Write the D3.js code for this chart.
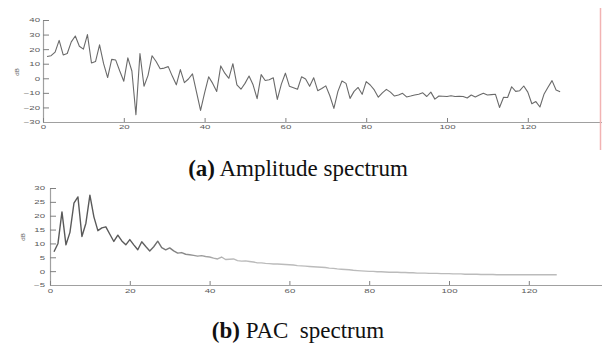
<!DOCTYPE html>
<html>
<head>
<meta charset="utf-8">
<script src="https://cdn.jsdelivr.net/npm/d3@7"></script>
<style>
  html, body { margin: 0; padding: 0; background: #fff; }
  svg { display: block; }
</style>
</head>
<body>
<svg id="chart"></svg>
<script>
// Amplitude spectrum (dB), bins 1..128
const ampDb = [
  15, 15.5, 18, 26, 16, 17, 25, 29, 22, 20,
  30, 10.5, 11.5, 23, 10, 0.5, 13, 12.5, 5, -2,
  14, 5, -25, 17, -5.5, 2, 15.5, 11.5, 6.5, 7,
  8, 1.5, -4.5, 6, -3, -0.5, 3, -9.5, -22, -10,
  1, -3.5, -9, 8.5, 3.5, 0, 10, -4.5, -7.5, -3.5,
  1.5, -4.5, -14, 2.5, -1.5, -1, 0.3, -14.5, -4, 3.5,
  -5.5, -6.5, -7.5, 1, -0.5, -5.5, 0.4, -8.5, -7, -5.2,
  -12, -20.7, -9, -1.9, -3.5, -13.8, -9, -6.3, -11, -2.3,
  -4.6, -8, -13, -10, -7.6, -9.5, -12.2, -11.5, -10.3, -12.8,
  -12.2, -11.5, -11, -10, -12.5, -9.5, -14.3, -12.2, -12.3, -12.5,
  -12, -12.5, -12.3, -12.5, -13.5, -11.5, -12.8, -11.5, -10.3, -11.5,
  -11.2, -11, -20, -13, -13.2, -5.8, -9, -8.5, -5.3, -9.5,
  -17.5, -16, -19.7, -11, -6.2, -1.6, -8, -9.2
];

// PAC spectrum (dB), bins 1..127
const pacDb = [
  7, 10, 21.4, 9.5, 14, 24.5, 26.8, 12.5, 17.3, 27.4,
  19.6, 14.6, 15.6, 16, 13.3, 10.7, 13, 10.9, 9.5, 11.4,
  9.5, 7.7, 10.6, 8.9, 7.3, 8.8, 10.8, 8.5, 7.7, 8.4,
  7.3, 6.5, 6.7, 6.1, 5.9, 5.7, 5.4, 5.6, 5.3, 5.1,
  4.7, 4.4, 5.1, 4.2, 4.3, 4.4, 3.8, 3.6, 3.7, 3.5,
  3.3, 3.0, 3.0, 2.8, 2.7, 2.6, 2.6, 2.5, 2.4, 2.3,
  2.2, 2.0, 1.9, 1.8, 1.7, 1.6, 1.5, 1.4, 1.3, 1.1,
  1.0, 0.8, 0.7, 0.6, 0.5, 0.3, 0.2, 0.1, 0.0, -0.1,
  -0.1, -0.2, -0.2, -0.3, -0.4, -0.4, -0.4, -0.5, -0.5, -0.6,
  -0.6, -0.7, -0.7, -0.7, -0.8, -0.8, -0.8, -0.9, -0.9, -0.9,
  -1.0, -1.0, -1.0, -1.1, -1.1, -1.1, -1.1, -1.2, -1.2, -1.2,
  -1.2, -1.3, -1.3, -1.3, -1.3, -1.3, -1.3, -1.3, -1.3, -1.3,
  -1.3, -1.3, -1.3, -1.3, -1.3, -1.3, -1.3
];

const xTicks = [0, 20, 40, 60, 80, 100, 120];
const ampYTicks = [-30, -20, -10, 0, 10, 20, 30, 40];
const pacYTicks = [-5, 0, 5, 10, 15, 20, 25, 30];
const yLabel = 'dB';
const captionA = ['(a)', ' Amplitude spectrum'];
const captionB = ['(b)', ' PAC  spectrum'];

const width = 602, height = 343;
const svg = d3.select('#chart')
  .attr('width', width)
  .attr('height', height)
  .attr('viewBox', `0 0 ${width} ${height}`);

const tickFont = '"Liberation Sans", Arial, sans-serif';
const axisColor = '#a0a0a0';
const labelColor = '#5a5a5a';

const defs = svg.append('defs');

function drawPanel(o) {
  const x = d3.scaleLinear().domain([0, 140]).range([o.left, 608.6]);
  const y = d3.scaleLinear().domain(o.yDomain).range([o.bottom, o.top]);

  // Y axis, ticks pointing inward
  const yAxis = svg.append('g')
    .attr('transform', `translate(${o.left},0)`)
    .call(d3.axisLeft(y).tickValues(o.yTicks).tickSizeInner(-6).tickSizeOuter(0).tickPadding(o.yPad));
  // X axis
  const xAxis = svg.append('g')
    .attr('transform', `translate(0,${o.bottom})`)
    .call(d3.axisBottom(x).tickValues(xTicks).tickSizeInner(-4).tickSizeOuter(0).tickPadding(o.xPad));

  [yAxis, xAxis].forEach(ax => {
    ax.select('.domain').attr('stroke', axisColor).attr('stroke-width', 1.2);
    ax.selectAll('.tick line').attr('stroke', '#808080');
    ax.selectAll('text')
      .attr('fill', labelColor)
      .attr('font-family', tickFont)
      .attr('font-size', '6px');
  });

  // tick labels in the source are stretched horizontally
  yAxis.selectAll('text')
    .attr('x', null)
    .attr('transform', `translate(${-o.yPad},0) scale(1.6,1)`);
  xAxis.selectAll('text')
    .attr('transform', 'scale(1.6,1)');

  // axis label
  svg.append('text')
    .attr('transform', `translate(${o.labelX},${o.labelY}) rotate(-90)`)
    .attr('text-anchor', 'middle')
    .attr('font-family', tickFont)
    .attr('font-size', '6px')
    .attr('fill', labelColor)
    .text(yLabel);

  const line = d3.line()
    .x((d, i) => x(i + 1))
    .y(d => y(d));

  let stroke = o.stroke;
  if (o.gradient) {
    // dark at the peaks, fading to a light grey tail
    const g = defs.append('linearGradient')
      .attr('id', o.gradient)
      .attr('gradientUnits', 'userSpaceOnUse')
      .attr('x1', x(22)).attr('x2', x(45)).attr('y1', 0).attr('y2', 0);
    g.append('stop').attr('offset', 0).attr('stop-color', '#5a5a5a');
    g.append('stop').attr('offset', 1).attr('stop-color', '#bbbbbb');
    stroke = `url(#${o.gradient})`;
  }

  svg.append('path')
    .datum(o.data)
    .attr('fill', 'none')
    .attr('stroke', stroke)
    .attr('stroke-width', o.strokeWidth)
    .attr('stroke-linejoin', 'round')
    .attr('d', line);
}

drawPanel({
  data: ampDb, left: 43, top: 20, bottom: 122,
  yDomain: [-30, 40], yTicks: ampYTicks, yPad: 3, xPad: 3,
  labelX: 19, labelY: 72, stroke: '#6a6a6a', strokeWidth: 1.1
});

drawPanel({
  data: pacDb, left: 50, top: 188, bottom: 285,
  yDomain: [-5, 30], yTicks: pacYTicks, yPad: 5, xPad: 4,
  labelX: 25, labelY: 237, gradient: 'pacGrad', strokeWidth: 1.4
});

// faint red edge line at the right of the top figure
svg.append('line')
  .attr('x1', 600.5).attr('x2', 600.5)
  .attr('y1', 8).attr('y2', 150)
  .attr('stroke', '#f2b3b3')
  .attr('stroke-width', 1.5);

// captions
function caption(parts, yPos) {
  const t = svg.append('text')
    .attr('x', 298)
    .attr('y', yPos)
    .attr('text-anchor', 'middle')
    .attr('font-family', '"Liberation Serif", "Times New Roman", serif')
    .attr('font-size', '23px')
    .attr('fill', '#111')
    .style('white-space', 'pre');
  t.append('tspan').attr('font-weight', 'bold').text(parts[0]);
  t.append('tspan').text(parts[1]);
}
caption(captionA, 176);
caption(captionB, 338);
</script>
</body>
</html>
